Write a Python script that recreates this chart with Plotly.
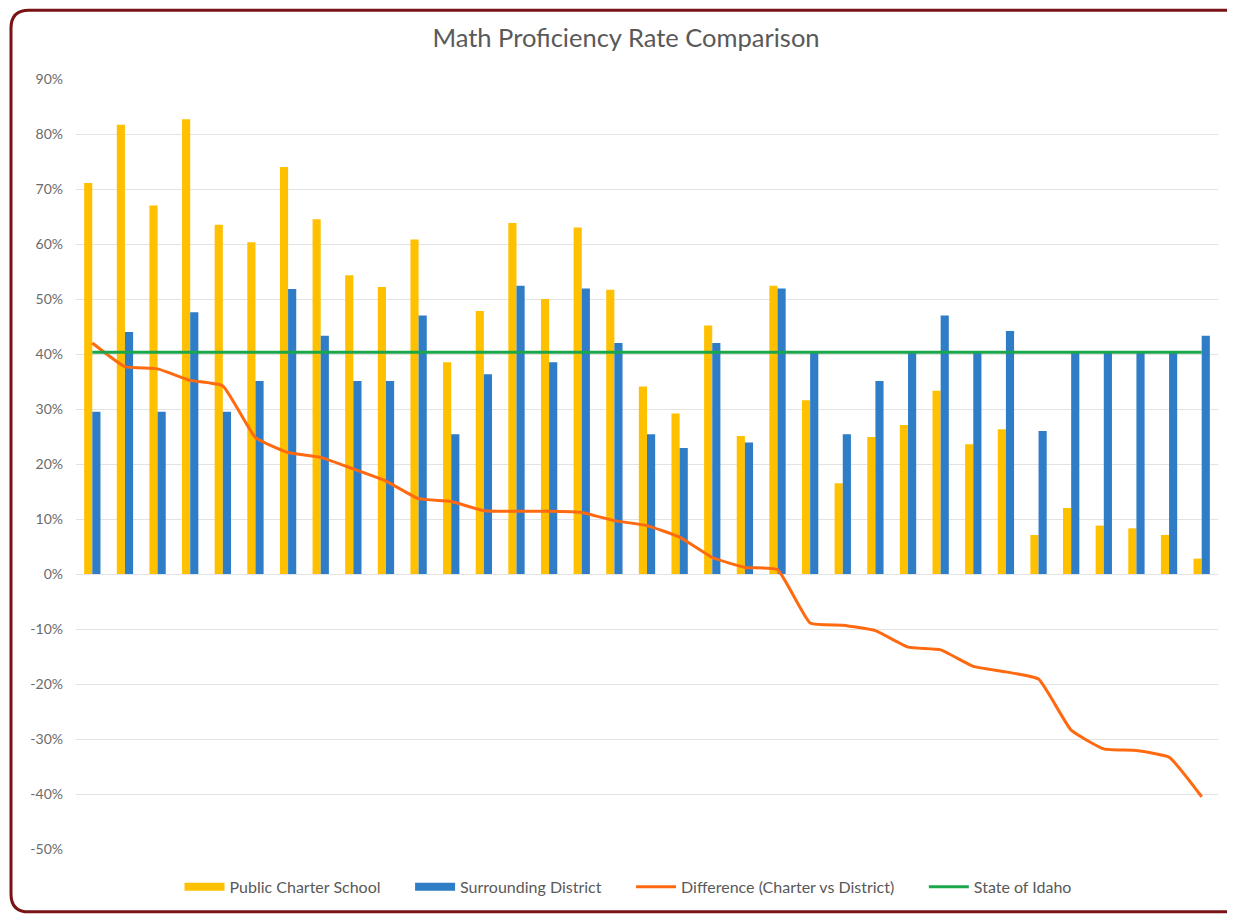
import plotly.graph_objects as go

# ---- data ----
schools = [f"School {i}" for i in range(1, 36)]

charter = [71.1, 81.7, 67.0, 82.7, 63.5, 60.3, 74.0, 64.5, 54.3, 52.2,
           60.8, 38.5, 47.8, 63.8, 50.0, 63.0, 51.7, 34.1, 29.2, 45.2,
           25.1, 52.4, 31.6, 16.5, 24.9, 27.1, 33.3, 23.6, 26.3, 7.1,
           12.0, 8.8, 8.3, 7.1, 2.8]

district = [29.5, 44.0, 29.5, 47.6, 29.5, 35.1, 51.8, 43.3, 35.1, 35.1,
            47.0, 25.4, 36.3, 52.4, 38.5, 51.9, 42.0, 25.4, 22.9, 42.0,
            23.9, 51.9, 40.2, 25.4, 35.1, 40.3, 47.0, 40.3, 44.2, 26.0,
            40.3, 40.3, 40.3, 40.3, 43.3]

difference = [42.0, 37.7, 37.3, 35.2, 34.2, 24.8, 22.1, 21.2, 19.1, 16.9,
              13.7, 13.2, 11.5, 11.4, 11.4, 11.2, 9.7, 8.8, 6.7, 3.0,
              1.2, 0.8, -8.9, -9.3, -10.3, -13.3, -13.8, -16.8, -17.8, -19.1,
              -28.4, -31.8, -32.1, -33.3, -40.5]

state_idaho = [40.3] * 35

series_names = ["Public Charter School", "Surrounding District",
                "Difference (Charter vs District)", "State of Idaho"]

y_ticks = [90, 80, 70, 60, 50, 40, 30, 20, 10, 0, -10, -20, -30, -40, -50]
y_tick_labels = [f"{v}%" for v in y_ticks]

# ---- geometry (page has an 8px body margin) ----
OFF = 8
W, H = 1235 - OFF, 916 - OFF
# plot area in reference page pixels
PL, PR, PT, PB = 76, 1218, 79, 851
ML, MR, MT, MB = PL - OFF, (1235 - PR), PT - OFF, (916 - PB)
PW, PH = W - ML - MR, H - MT - MB

FONT = "Lato, 'Open Sans', sans-serif"
YELLOW, BLUE, ORANGE, GREEN = "#FFC000", "#2E7DC6", "#FF6A10", "#1AA64A"


def px_x(x):  # reference page x -> paper x
    return (x - OFF - ML) / PW


def px_y(y):  # reference page y -> paper y
    return (H - MB - (y - OFF)) / PH


fig = go.Figure()
fig.add_trace(go.Bar(x=schools, y=charter, name=series_names[0],
                     marker=dict(color=YELLOW, line=dict(width=0)),
                     showlegend=False, legendgroup="c"))
fig.add_trace(go.Bar(x=schools, y=district, name=series_names[1],
                     marker=dict(color=BLUE, line=dict(width=0)),
                     showlegend=False, legendgroup="d"))
fig.add_trace(go.Scatter(x=schools, y=difference, name=series_names[2],
                         mode="lines", showlegend=False, legendgroup="x",
                         line=dict(color=ORANGE, width=3, shape="spline", smoothing=0.4)))
fig.add_trace(go.Scatter(x=schools, y=state_idaho, name=series_names[3],
                         mode="lines", showlegend=False, legendgroup="s",
                         line=dict(color=GREEN, width=3)))

# legend entries (wide swatches like the reference)
PAD = "\u00a0" * 6
for name, color, width, grp, pad in [(series_names[0], YELLOW, 8, "c", PAD),
                                     (series_names[1], BLUE, 8, "d", PAD),
                                     (series_names[2], ORANGE, 3, "x", PAD),
                                     (series_names[3], GREEN, 3, "s", "")]:
    fig.add_trace(go.Scatter(x=[None], y=[None], mode="lines", name=name + pad,
                             legendgroup=grp, line=dict(color=color, width=width),
                             hoverinfo="skip"))

# rounded border around the whole chart
L, R, T, B, rad = 11, 1250, 10, 914, 18
rx, ry = rad / PW, rad / PH
path = (f"M {px_x(L)},{px_y(T) - ry} "
        f"Q {px_x(L)},{px_y(T)} {px_x(L) + rx},{px_y(T)} "
        f"L {px_x(R) - rx},{px_y(T)} "
        f"Q {px_x(R)},{px_y(T)} {px_x(R)},{px_y(T) - ry} "
        f"L {px_x(R)},{px_y(B) + ry} "
        f"Q {px_x(R)},{px_y(B)} {px_x(R) - rx},{px_y(B)} "
        f"L {px_x(L) + rx},{px_y(B)} "
        f"Q {px_x(L)},{px_y(B)} {px_x(L)},{px_y(B) + ry} Z")
fig.add_shape(type="path", path=path, xref="paper", yref="paper",
              line=dict(color="#7A1315", width=3), layer="above")

fig.update_layout(
    width=W, height=H,
    margin=dict(l=ML, r=MR, t=MT, b=MB),
    paper_bgcolor="white", plot_bgcolor="white",
    barmode="group", bargap=0.5, bargroupgap=0.0,
    title=dict(text="Math Proficiency Rate Comparison", x=(626 - OFF) / W, xanchor="center",
               y=1 - (38 - OFF) / H, yanchor="middle",
               font=dict(family=FONT, size=25.5, color="#595959")),
    font=dict(family=FONT, color="#595959"),
    showlegend=True,
    legend=dict(orientation="h", x=px_x(628), xanchor="center", y=px_y(889), yanchor="middle",
                font=dict(family=FONT, size=16, color="#595959"),
                itemwidth=40, traceorder="normal", bgcolor="rgba(0,0,0,0)"),
    xaxis=dict(showticklabels=False, showgrid=False, zeroline=False, showline=False,
               ticks=""),
    yaxis=dict(range=[-50, 90], tickvals=y_ticks, ticktext=y_tick_labels,
               showgrid=True, gridcolor="#E3E3E3", gridwidth=1,
               zeroline=True, zerolinecolor="#E3E3E3", zerolinewidth=1,
               showline=False, ticks="", ticklabelstandoff=12,
               tickfont=dict(family=FONT, size=14, color="#6b6b6b")),
)

fig.write_html("out.html")
